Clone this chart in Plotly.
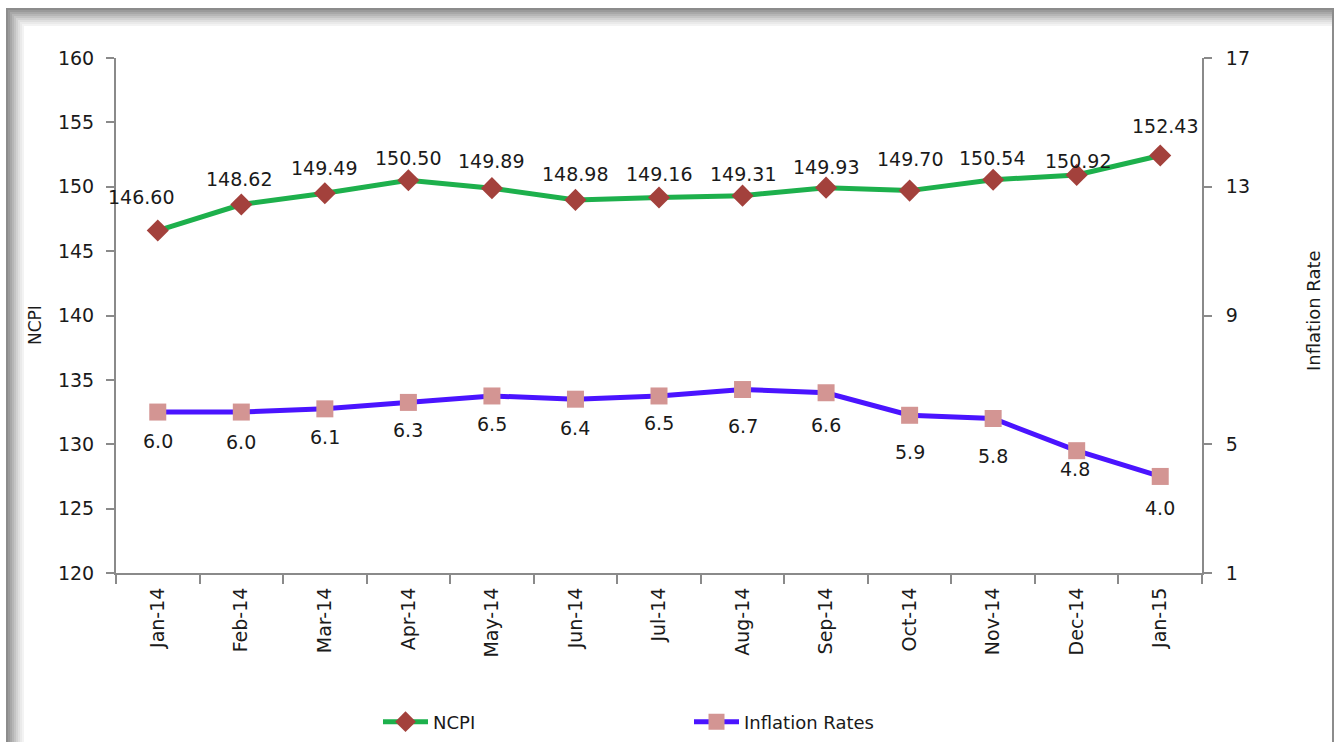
import plotly.graph_objects as go

months = ["Jan-14", "Feb-14", "Mar-14", "Apr-14", "May-14", "Jun-14", "Jul-14",
          "Aug-14", "Sep-14", "Oct-14", "Nov-14", "Dec-14", "Jan-15"]
ncpi = [146.60, 148.62, 149.49, 150.50, 149.89, 148.98, 149.16, 149.31,
        149.93, 149.70, 150.54, 150.92, 152.43]
inflation = [6.0, 6.0, 6.1, 6.3, 6.5, 6.4, 6.5, 6.7, 6.6, 5.9, 5.8, 4.8, 4.0]
left_ticks = [120, 125, 130, 135, 140, 145, 150, 155, 160]
right_ticks = [1, 5, 9, 13, 17]

# label placement (style only, pixels relative to marker)
ncpi_label_dx = [-17, -2, -1, 0, -1, 0, 0, 0, 0, 0, -1, 1, 5]
ncpi_label_dy = [34, 26, 25, 22, 27, 26, 24, 22, 21, 32, 22, 14, 29]
infl_label_dx = [0, 0, 0, 0, 0, 0, 0, 0, 0, 0, 0, -2, 0]
infl_label_dy = [29, 30, 28, 28, 28, 29, 27, 36, 32, 37, 37, 18, 32]

W, H = 1335, 742
L, R, T, B = 116, 1202, 58, 573
FONT = "DejaVu Sans"
TXT = "#1a1a1a"
AX = "#8a8a8a"

def px(x):
    return (x - L) / (R - L)

def py(y):
    return (B - y) / (B - T)

fig = go.Figure()
fig.add_trace(go.Scatter(
    x=months, y=ncpi, name="NCPI", mode="lines+markers",
    line=dict(color="#1db04c", width=5),
    marker=dict(symbol="diamond", size=17, color="#a3413c"),
    cliponaxis=False,
))
fig.add_trace(go.Scatter(
    x=months, y=inflation, name="Inflation Rates", mode="lines+markers",
    line=dict(color="#4a14ff", width=5),
    marker=dict(symbol="square", size=17, color="#d39593"),
    yaxis="y2", cliponaxis=False,
))

annotations = []
for m, v, dx, dy in zip(months, ncpi, ncpi_label_dx, ncpi_label_dy):
    annotations.append(dict(x=m, y=v, xref="x", yref="y", text=f"{v:.2f}",
                            showarrow=False, xshift=dx, yshift=dy,
                            font=dict(family=FONT, size=19, color=TXT)))
for m, v, dx, dy in zip(months, inflation, infl_label_dx, infl_label_dy):
    annotations.append(dict(x=m, y=v, xref="x", yref="y2", text=f"{v:.1f}",
                            showarrow=False, xshift=dx, yshift=-dy,
                            font=dict(family=FONT, size=19, color=TXT)))
annotations += [
    dict(text="NCPI", xref="paper", yref="paper", x=px(35), y=py(325),
         xanchor="center", yanchor="middle",
         textangle=-90, showarrow=False, font=dict(family=FONT, size=17, color=TXT)),
    dict(text="Inflation Rate", xref="paper", yref="paper", x=px(1313), y=py(311),
         xanchor="center", yanchor="middle",
         textangle=-90, showarrow=False, font=dict(family=FONT, size=18, color=TXT)),
]

# frame with shadow
shapes = []
greys = ["#8c8c8c", "#9a9a9a", "#a8a8a8", "#b6b6b6", "#c4c4c4", "#d2d2d2",
         "#dfdfdf", "#eaeaea", "#f3f3f3", "#ffffff"]
for i, g in enumerate(greys):
    shapes.append(dict(type="rect", xref="paper", yref="paper", layer="below",
                       x0=px(6 + i * 2), x1=px(1334 if i == 0 else 1332),
                       y0=py(8 + i * 2), y1=py(800),
                       fillcolor=g, line=dict(width=0)))

tickfont = dict(family=FONT, size=19, color=TXT)
fig.update_layout(
    width=W, height=H,
    margin=dict(l=L, r=W - R, t=T, b=H - B, autoexpand=False),
    paper_bgcolor="white", plot_bgcolor="rgba(0,0,0,0)",
    font=dict(family=FONT, size=19, color=TXT),
    showlegend=True,
    legend=dict(orientation="h", x=px(378), xanchor="left", y=py(722), yanchor="middle",
                itemwidth=45, entrywidth=251, entrywidthmode="pixels",
                font=dict(family=FONT, size=18, color=TXT), bgcolor="rgba(0,0,0,0)"),
    xaxis=dict(type="category", range=[-0.5, 12.5], showline=True, linecolor=AX,
               linewidth=2, ticks="outside", ticklen=9, tickcolor=AX, tickwidth=2,
               tickson="boundaries", tickangle=-90, showgrid=False, zeroline=False,
               ticklabelstandoff=5, tickfont=tickfont),
    yaxis=dict(range=[120, 160], tickvals=left_ticks, showline=True, linecolor=AX,
               linewidth=2, ticks="outside", ticklen=8, tickcolor=AX, tickwidth=2,
               showgrid=False, zeroline=False, ticklabelstandoff=8, tickfont=tickfont),
    yaxis2=dict(range=[1, 17], tickvals=right_ticks, overlaying="y", side="right",
                showline=True, linecolor=AX, linewidth=2, ticks="outside", ticklen=8,
                tickcolor=AX, tickwidth=2, showgrid=False, zeroline=False,
                ticklabelstandoff=10, tickfont=tickfont),
    shapes=shapes,
    annotations=annotations,
)

fig.write_html("out.html", config={"displayModeBar": False},
               post_script="document.body.style.margin='0';")
